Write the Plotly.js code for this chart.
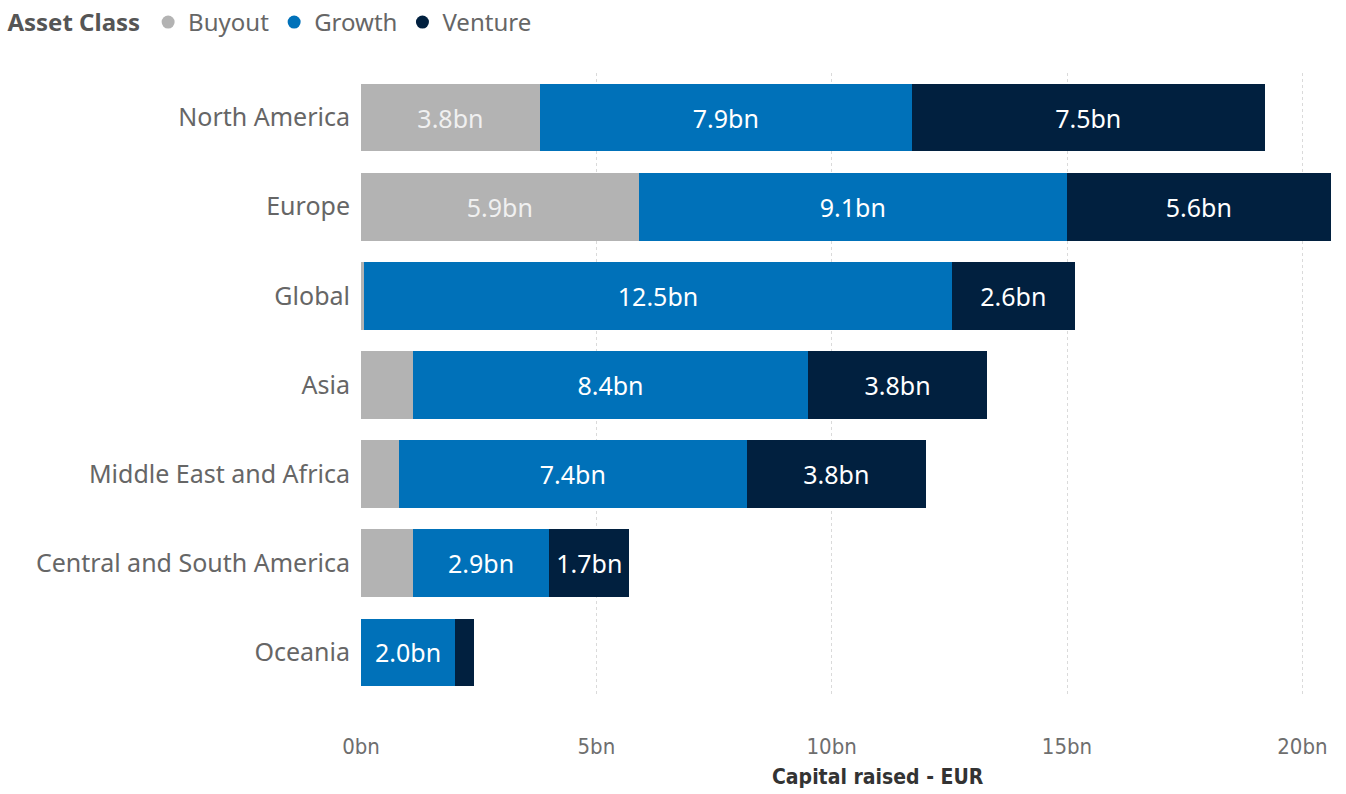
<!DOCTYPE html>
<html>
<head>
<meta charset="utf-8">
<script src="https://cdn.plot.ly/plotly-3.0.1.min.js"></script>
<style>
  html, body { margin: 0; padding: 0; background: #fff; }
  #chart { width: 1346px; height: 794px; }
</style>
</head>
<body>
<div id="chart"></div>
<script>
// Capital raised by region, split by asset class (EUR, billions)
const regions = ['North America', 'Europe', 'Global', 'Asia', 'Middle East and Africa', 'Central and South America', 'Oceania'];
const assetClasses = ['Buyout', 'Growth', 'Venture'];
const buyout  = [3.8, 5.9, 0.06, 1.1, 0.8, 1.1, 0.0];
const growth  = [7.9, 9.1, 12.5, 8.4, 7.4, 2.9, 2.0];
const venture = [7.5, 5.6, 2.6, 3.8, 3.8, 1.7, 0.4];
const xTicks  = [0, 5, 10, 15, 20];
const xTickLabels = ['0bn', '5bn', '10bn', '15bn', '20bn'];

const classColors = ['#B3B3B3', '#0071B9', '#01203F'];
const labelColors = ['#F0F0F0', '#FFFFFF', '#FFFFFF'];

// Segments too narrow for a readable label stay unlabelled
const MIN_LABEL = 1.5;
const labels = vals => vals.map(v => v >= MIN_LABEL ? v.toFixed(1) + 'bn' : '');

const baseFont = '"Noto Sans", "Open Sans", sans-serif';
const condFont = '"DejaVu Sans Condensed", "Liberation Sans Narrow", "Noto Sans", sans-serif';

function barSeries(i, vals) {
  return {
    type: 'bar',
    orientation: 'h',
    name: assetClasses[i],
    legendgroup: assetClasses[i],
    showlegend: false,
    y: regions,
    x: vals,
    marker: { color: classColors[i], line: { width: 0 } },
    text: labels(vals),
    textposition: 'inside',
    insidetextanchor: 'middle',
    textangle: 0,
    constraintext: 'none',
    textfont: { family: baseFont, size: 25, color: labelColors[i] },
    hoverinfo: 'x+y+name'
  };
}

// Round legend swatches for each asset class
function legendKey(i) {
  return {
    type: 'scatter',
    mode: 'markers',
    name: assetClasses[i],
    legendgroup: assetClasses[i],
    x: [null], y: [null],
    marker: { symbol: 'circle', size: 13, color: classColors[i] },
    hoverinfo: 'skip'
  };
}

const data = [
  barSeries(0, buyout),
  barSeries(1, growth),
  barSeries(2, venture),
  legendKey(0), legendKey(1), legendKey(2)
];

const layout = {
  width: 1346,
  height: 794,
  barmode: 'stack',
  bargap: 0.24,
  paper_bgcolor: '#ffffff',
  plot_bgcolor: '#ffffff',
  margin: { l: 361, r: 6, t: 73, b: 97 },
  font: { family: baseFont, color: '#666666' },
  showlegend: true,
  legend: {
    orientation: 'h',
    x: 0.004, xref: 'container', xanchor: 'left',
    y: 1, yref: 'container', yanchor: 'top',
    itemwidth: 30,
    tracegroupgap: 0,
    traceorder: 'normal',
    font: { family: baseFont, size: 24, color: '#666666' },
    title: { text: '<b>Asset Class</b>', font: { family: baseFont, size: 24, color: '#555555' } },
    bgcolor: 'rgba(0,0,0,0)'
  },
  xaxis: {
    range: [0, 20.8],
    tickvals: xTicks,
    ticktext: xTickLabels,
    showgrid: true,
    gridcolor: '#DADADA',
    griddash: 'dot',
    gridwidth: 1,
    zeroline: false,
    showline: false,
    ticks: '',
    ticklabelstandoff: 34,
    tickfont: { family: condFont, size: 22, color: '#6E6E6E' },
    fixedrange: true
  },
  yaxis: {
    type: 'category',
    categoryorder: 'array',
    categoryarray: regions,
    autorange: 'reversed',
    showgrid: false,
    zeroline: false,
    showline: false,
    ticks: '',
    ticklabelstandoff: 10,
    tickfont: { family: baseFont, size: 25, color: '#666666' },
    fixedrange: true
  },
  annotations: [{
    text: '<b>Capital raised - EUR</b>',
    xref: 'paper', yref: 'paper',
    x: (878 - 361) / 979, y: 0,
    xanchor: 'center', yanchor: 'top',
    yshift: -66,
    showarrow: false,
    font: { family: condFont, size: 21, color: '#333333' }
  }]
};

Plotly.newPlot('chart', data, layout, { displayModeBar: false, staticPlot: true });
</script>
</body>
</html>
